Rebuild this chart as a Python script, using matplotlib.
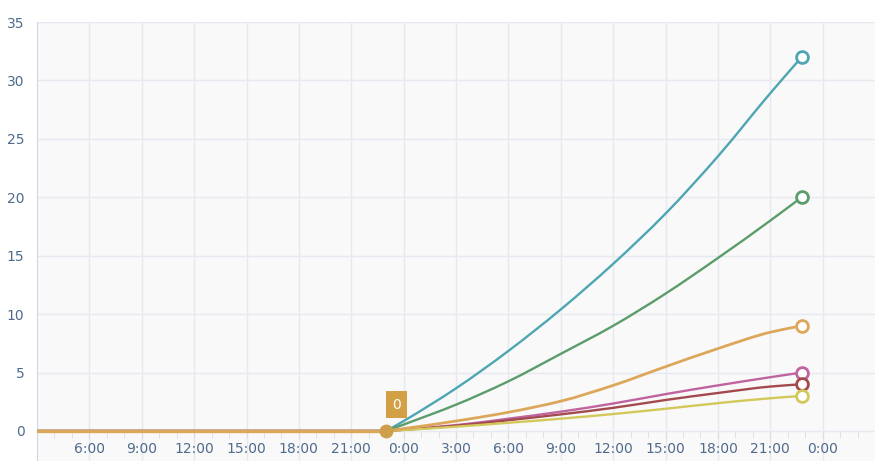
import matplotlib
matplotlib.use("Agg")
import matplotlib.pyplot as plt
import numpy as np
from matplotlib.path import Path
from matplotlib.patches import PathPatch

# hours counted from 0:00 of the first day
hours = [3, 23, 24, 27, 30, 33, 36, 39, 42, 45, 46.8]

teal = [0, 0, 0.85, 3.65, 6.85, 10.4, 14.3, 18.6, 23.5, 28.9, 32]
green = [0, 0, 0.55, 2.25, 4.25, 6.6, 9.0, 11.75, 14.8, 18.0, 20]
magenta = [0, 0, 0.12, 0.5, 1.05, 1.65, 2.35, 3.15, 3.9, 4.6, 5]
darkred = [0, 0, 0.1, 0.45, 0.92, 1.42, 1.98, 2.65, 3.25, 3.8, 4]
yellow = [0, 0, 0.08, 0.37, 0.7, 1.05, 1.45, 1.9, 2.38, 2.8, 3]
orange = [0, 0, 0.2, 0.85, 1.6, 2.55, 3.9, 5.5, 7.05, 8.45, 9]

series = [
    (teal, "#4ea6b3"),
    (green, "#5b9d6a"),
    (magenta, "#c064a0"),
    (darkred, "#a44a4e"),
    (yellow, "#d2c95a"),
    (orange, "#dca75a"),
]

y_ticks = [0, 5, 10, 15, 20, 25, 30, 35]
x_ticks = list(range(6, 49, 3))
x_labels = [f"{h % 24}:00" for h in x_ticks]

label_col = "#4f6b8c"
grid_col = "#e6e9f0"


def spline_path(x, y):
    # smooth bezier path through the points (monotone cubic)
    x = np.asarray(x, float)
    y = np.asarray(y, float)
    h = np.diff(x)
    d = np.diff(y) / h
    m = np.zeros_like(y)
    m[0], m[-1] = d[0], d[-1]
    for k in range(1, len(x) - 1):
        if d[k - 1] * d[k] > 0:
            w1 = 2 * h[k] + h[k - 1]
            w2 = h[k] + 2 * h[k - 1]
            m[k] = (w1 + w2) / (w1 / d[k - 1] + w2 / d[k])
    verts = [(x[0], y[0])]
    codes = [Path.MOVETO]
    for i in range(len(x) - 1):
        verts += [(x[i] + h[i] / 3, y[i] + m[i] * h[i] / 3),
                  (x[i + 1] - h[i] / 3, y[i + 1] - m[i + 1] * h[i] / 3),
                  (x[i + 1], y[i + 1])]
        codes += [Path.CURVE4] * 3
    return Path(verts, codes)


fig = plt.figure(figsize=(8.75, 4.61), dpi=100)
ax = fig.add_axes([37 / 875, 0, 838 / 875, 439 / 461])
ax.set_facecolor("#f9f9f9")

for vals, col in series:
    lw = 2.0 if vals is orange else 1.7
    # flat part before the first rise
    ax.plot(hours[:2], vals[:2], color=col, lw=2.4 if vals is orange else 1.7, zorder=3)
    ax.add_patch(PathPatch(spline_path(hours[1:], vals[1:]), fc="none", ec=col,
                           lw=lw, capstyle="round", zorder=3))
    ax.plot(hours[-1], vals[-1], "o", ms=8.5, mfc="white", mec=col, mew=2, zorder=4)

# highlighted point with its label
ax.plot(hours[1], orange[1], "o", ms=9, color="#cfa04c", zorder=5)
ax.annotate("0", (hours[1], orange[1]), xytext=(7.2, 19), textcoords="offset points",
            ha="center", va="center", color="white", fontsize=10,
            bbox=dict(boxstyle="square,pad=0.45", fc="#d3a046", ec="none"), zorder=6)

ax.set_xlim(3, 51)
ax.set_ylim(-2.57, 35)
ax.set_yticks(y_ticks)
ax.set_xticks(x_ticks)
ax.set_xticklabels(x_labels)
ax.set_xticks(range(4, 51), minor=True)

ax.grid(True, which="major", color=grid_col, lw=1)
ax.set_axisbelow(True)

for s in ["top", "right"]:
    ax.spines[s].set_visible(False)
ax.spines["left"].set_color("#ccd6e6")
ax.spines["bottom"].set_position(("data", 0))
ax.spines["bottom"].set_visible(False)

ax.tick_params(axis="y", length=0, pad=9, labelcolor=label_col, labelsize=10)
ax.tick_params(axis="x", which="both", length=5, color="#d8dde8", direction="out",
               labelcolor=label_col, labelsize=10, pad=3)

fig.savefig("out.png", dpi=100)
